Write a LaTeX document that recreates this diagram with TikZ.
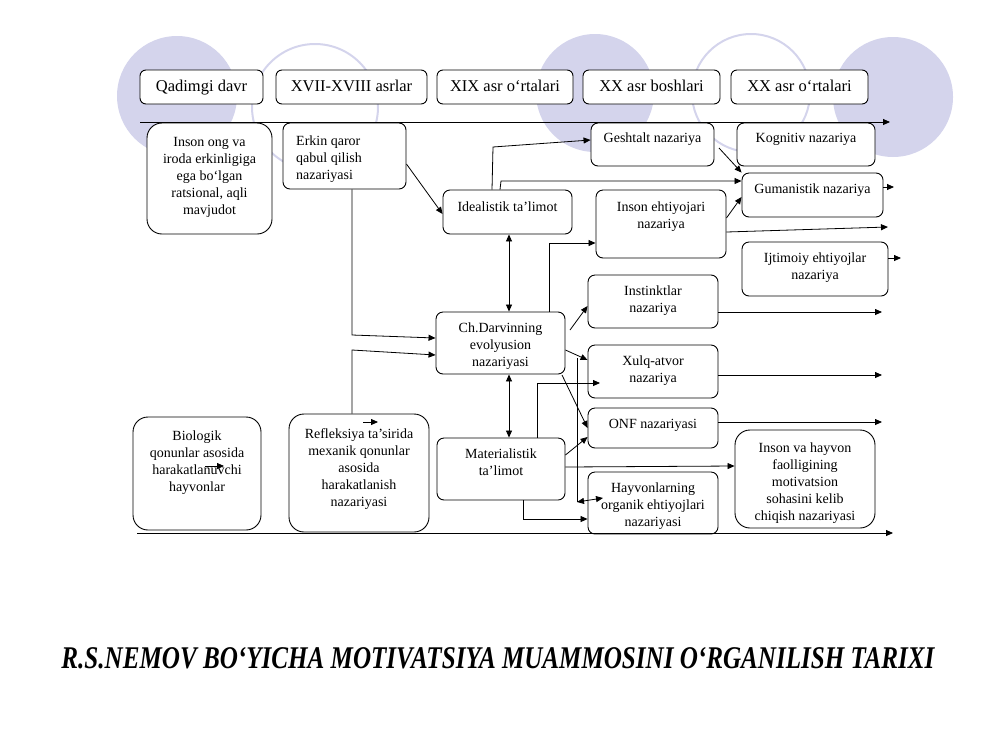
\documentclass[tikz,border=0pt]{standalone}
\usepackage{fontspec}
\usepackage{graphicx}
\setmainfont{Liberation Serif}[BoldFont={Liberation Serif Bold},ItalicFont={Liberation Serif Italic},BoldItalicFont={Liberation Serif Bold Italic}]
\usetikzlibrary{arrows.meta}
\definecolor{lilac}{RGB}{212,212,236}
\tikzset{
  bx/.style={draw, fill=white, line width=0.9pt, rounded corners=7pt, inner sep=0pt},
  bigbx/.style={bx, rounded corners=15pt},
  tx/.style={font=\fontsize{14}{17}\selectfont, align=center, inner sep=0pt, anchor=north},
  per/.style={draw, fill=white, line width=0.9pt, rounded corners=6pt, inner sep=0pt, text height=11.5pt, text depth=3.5pt, font=\fontsize{16.5}{20}\selectfont},
  ar/.style={-{Triangle[length=7pt,width=6pt]}, line width=0.8pt},
  dar/.style={{Triangle[length=7pt,width=6pt]}-{Triangle[length=7pt,width=6pt]}, line width=0.8pt},
  ln/.style={line width=0.8pt},
  disc/.style={fill=lilac},
  ring/.style={draw=lilac, line width=2pt},
}
\newcommand\bxn[8]{%
  \node[#1, minimum width={#5pt-#3pt}, minimum height={#6pt-#4pt}] (#2) at ({(#3+#5)/2},{(#4+#6)/2}) {};
  \node[tx] (#2t) at ({(#3+#5)/2},#7) {#8};}
\begin{document}
\begin{tikzpicture}[x=1pt,y=-1pt]
\useasboundingbox (0,0) rectangle (1000,750);
% decorative circles
\fill[disc] (177,96) circle (60);
\draw[ring] (315,107) circle (63);
\fill[disc] (595,93) circle (59);
\draw[ring] (751,93) circle (59);
\fill[disc] (893,97) circle (60);
% period boxes
\node[per, minimum width=123pt, minimum height=34pt] (p1) at (201.5,87) {Qadimgi davr};
\node[per, minimum width=151pt, minimum height=34pt] (p2) at (351.5,87) {XVII-XVIII asrlar};
\node[per, minimum width=136pt, minimum height=34pt] (p3) at (505,87) {XIX asr o‘rtalari};
\node[per, minimum width=137pt, minimum height=34pt] (p4) at (651.5,87) {XX asr boshlari};
\node[per, minimum width=137pt, minimum height=34pt] (p5) at (799.5,87) {XX asr o‘rtalari};
% timeline
\coordinate (tl0) at (140,122);
\coordinate (tl1) at (890,122);
\draw[ar] (tl0) -- (tl1);
% boxes
\bxn{bigbx}{insong}{147}{123}{272}{234}{137}{Inson ong va\\iroda erkinligiga\\ega bo‘lgan\\ratsional, aqli\\mavjudot}
\node[bx, minimum width=123pt, minimum height=66pt] (erkin) at (344.5,156) {};
\node[tx, align=left, anchor=north west] (erkint) at (296,136) {Erkin qaror\\qabul qilish\\nazariyasi};
\bxn{bx}{gesh}{591}{123}{714}{166}{133}{Geshtalt nazariya}
\bxn{bx}{kogn}{737}{123}{875}{166}{133}{Kognitiv nazariya}
\bxn{bx}{guman}{742}{173}{883}{217}{184}{Gumanistik nazariya}
\bxn{bx}{ideal}{443}{190}{572}{234}{202}{Idealistik ta’limot}
\bxn{bx}{ehtiy}{596}{190}{726}{258}{202}{Inson ehtiyojari\\nazariya}
\bxn{bx}{ijtim}{742}{242}{888}{296}{253}{Ijtimoiy ehtiyojlar\\nazariya}
\bxn{bx}{inst}{588}{275}{718}{328}{286}{Instinktlar\\nazariya}
\bxn{bx}{darv}{436}{312}{565}{374}{323}{Ch.Darvinning\\evolyusion\\nazariyasi}
\bxn{bx}{xulq}{588}{345}{718}{398}{356}{Xulq-atvor\\nazariya}
\bxn{bx}{onf}{588}{408}{718}{448}{419}{ONF nazariyasi}
\bxn{bx}{mater}{437}{438}{565}{500}{449}{Materialistik\\ta’limot}
\bxn{bx}{hayv}{588}{472}{718}{534}{483}{Hayvonlarning\\organik ehtiyojlari\\nazariyasi}
\bxn{bigbx}{insh}{735}{430}{875}{528}{443}{Inson va hayvon\\faolligining\\motivatsion\\sohasini kelib\\chiqish nazariyasi}
\bxn{bigbx}{biol}{133}{417}{261}{530}{431}{Biologik\\qonunlar asosida\\harakatlanuvchi\\hayvonlar}
\bxn{bigbx}{refl}{289}{414}{429}{532}{428}{Refleksiya ta’sirida\\mexanik qonunlar\\asosida\\harakatlanish\\nazariyasi}
% bottom line
\coordinate (bl0) at (137,533);
\coordinate (bl1) at (893,533);
\draw[ar] (bl0) -- (bl1);
% connectors
\draw[ar] (erkin.east |- 0,164) -- (ideal.west |- 0,214);
\draw[ar] (erkin.south -| 352,0) -- (352,335) -- (darv.west |- 0,338);
\draw[ar] (refl.north -| 352,0) -- (352,350) -- (darv.west |- 0,355);
\draw[dar] (ideal.south -| 509,0) -- (darv.north -| 509,0);
\draw[dar] (darv.south -| 509,0) -- (mater.north -| 509,0);
\draw[ar] (ideal.north -| 492,0) -- (493,147) -- (gesh.west |- 0,140);
\draw[ar] (ideal.north -| 500,0) -- (501,181) -- (guman.west |- 0,181);
\draw[ar] (719,148) -- (guman.north west);
\draw[ar] (ehtiy.east |- 0,218) -- (guman.west |- 0,197);
\coordinate (e1) at (888,227);
\draw[ar] (ehtiy.east |- 0,232) -- (e1);
\coordinate (e2) at (894,187);
\draw[ar] (guman.east |- 0,187) -- (e2);
\coordinate (e3) at (901,258);
\draw[ar] (ijtim.east |- 0,258) -- (e3);
\draw[ar] (darv.north -| 549,0) -- (549,243) -- (ehtiy.west |- 0,243);
\draw[ar] (570,330) -- (inst.west |- 0,306);
\draw[ar] (darv.east |- 0,350) -- (xulq.west |- 0,360);
\draw[ar] (562,375) -- (onf.west |- 0,428);
\coordinate (v0) at (577,358);
\coordinate (v1) at (577,502);
\draw[ln] (v0) -- (v1);
\coordinate (v2) at (603,498);
\draw[dar] (v1) -- (v2);
\coordinate (m1) at (600,383);
\draw[ar] (mater.north -| 537,0) -- (537,383) -- (m1);
\draw[ar] (mater.east |- 0,455) -- (onf.west |- 0,437);
\draw[ar] (mater.east |- 0,467) -- (insh.west |- 0,466);
\draw[ar] (mater.south -| 523,0) -- (523,519) -- (hayv.west |- 0,519);
\coordinate (r1) at (882,312);
\coordinate (r2) at (882,375);
\coordinate (r3) at (882,422);
\draw[ar] (inst.east |- 0,312) -- (r1);
\draw[ar] (xulq.east |- 0,375) -- (r2);
\draw[ar] (onf.east |- 0,422) -- (r3);
% stray small arrows
\coordinate (s0) at (363,422); \coordinate (s1) at (378,422);
\draw[ar] (s0) -- (s1);
\coordinate (s2) at (205,466); \coordinate (s3) at (224,466);
\draw[ar] (s2) -- (s3);
% title
\node[inner sep=0pt] (title) at (498,658) {\resizebox{873pt}{21pt}{\bfseries\itshape R.S.NEMOV BO‘YICHA MOTIVATSIYA MUAMMOSINI O‘RGANILISH TARIXI}};
\end{tikzpicture}
\end{document}
